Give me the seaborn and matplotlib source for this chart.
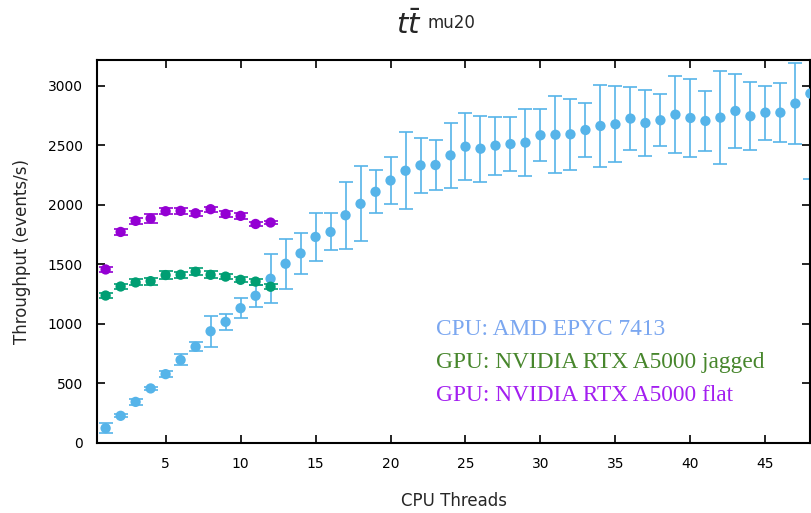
import matplotlib
matplotlib.use("Agg")
import matplotlib.pyplot as plt
import seaborn as sns
import pandas as pd

# CPU threads (x) and throughput values
cpu_threads = list(range(1, 49))
cpu_throughput = [124, 228, 345, 458, 578, 697, 808, 938, 1017, 1132, 1236, 1379,
                  1505, 1592, 1730, 1772, 1912, 2008, 2109, 2204, 2286, 2331, 2334, 2415,
                  2488, 2471, 2497, 2510, 2522, 2584, 2588, 2592, 2628, 2662, 2676, 2724,
                  2687, 2710, 2757, 2729, 2704, 2732, 2788, 2744, 2774, 2774, 2850, 2934]
cpu_err = [40, 12, 25, 15, 28, 46, 39, 130, 67, 83, 94, 206,
           210, 175, 200, 155, 280, 315, 180, 200, 325, 230, 208, 273,
           280, 278, 243, 227, 284, 219, 323, 300, 230, 342, 320, 264,
           280, 220, 324, 326, 253, 392, 309, 288, 227, 250, 342, 716]

gpu_threads = list(range(1, 13))
jagged_throughput = [1238, 1314, 1348, 1359, 1410, 1413, 1438, 1412, 1397, 1370, 1355, 1312]
jagged_err = [20, 20, 25, 30, 30, 25, 30, 30, 20, 20, 25, 20]
flat_throughput = [1457, 1772, 1865, 1885, 1946, 1949, 1929, 1963, 1923, 1907, 1839, 1851]
flat_err = [20, 25, 25, 35, 25, 25, 20, 20, 25, 25, 20, 15]

labels = ["CPU: AMD EPYC 7413", "GPU: NVIDIA RTX A5000 jagged", "GPU: NVIDIA RTX A5000 flat"]
mark_colors = ["#56b4e9", "#009e73", "#9400d3"]
text_colors = ["#7ba7f0", "#47862c", "#a31ff0"]

sns.set_theme(style="ticks")
plt.rcParams['font.family'] = ['DejaVu Sans']

fig = plt.figure(figsize=(8.12, 5.13), dpi=100)
ax = fig.add_axes([0.119, 0.1365, 0.879, 0.7475])

series = [
    (cpu_threads, cpu_throughput, cpu_err),
    (gpu_threads, jagged_throughput, jagged_err),
    (gpu_threads, flat_throughput, flat_err),
]

for (xs, ys, es), col in zip(series, mark_colors):
    ax.errorbar(xs, ys, yerr=es, fmt='none', ecolor=col, elinewidth=1.2,
                capsize=5, capthick=1.2, zorder=2, clip_on=True)
    df = pd.DataFrame({'threads': xs, 'throughput': ys})
    sns.scatterplot(data=df, x='threads', y='throughput', color=col, s=55,
                    edgecolor='none', ax=ax, zorder=3)

ax.set_xlim(0.4, 48)
ax.set_ylim(0, 3220)
ax.set_xticks(range(5, 46, 5))
ax.set_yticks(range(0, 3001, 500))
ax.tick_params(direction='in', top=True, right=True, length=6, width=1.2,
               labelsize=10, colors='black', pad=10)
for sp in ax.spines.values():
    sp.set_linewidth(1.5)
    sp.set_color('black')

ax.set_xlabel("CPU Threads", fontsize=12, labelpad=15)
ax.set_ylabel("Throughput (events/s)", fontsize=12, labelpad=12)

for i, (lab, col) in enumerate(zip(labels, text_colors)):
    ax.text(0.475, 0.296 - i * 0.086, lab, transform=ax.transAxes, color=col,
            fontsize=16.8, family=['Liberation Serif', 'DejaVu Serif'], va='center')

fig.text(0.519, 0.952, r"$t\bar{t}$", fontsize=21, ha='right', va='center')
fig.text(0.526, 0.956, "mu20", fontsize=12, ha='left', va='center')

fig.savefig("out.png", dpi=100)
